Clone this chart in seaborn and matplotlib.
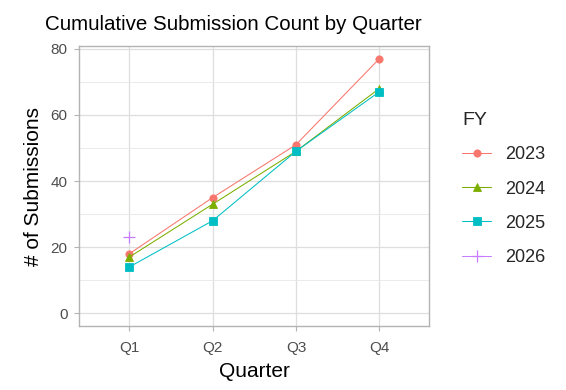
import pandas as pd
import numpy as np
import seaborn as sns
import matplotlib.pyplot as plt
from matplotlib.ticker import MultipleLocator

# Values
quarters = ['Q1', 'Q2', 'Q3', 'Q4']
fy_2023 = [18, 35, 51, 77]
fy_2024 = [17, 33, 49, 68]
fy_2025 = [14, 28, 49, 67]
fy_2026 = [23]
fy_labels = ['2023', '2024', '2025', '2026']

# ggplot-like hue palette and shapes
colors = ['#F8766D', '#7CAE00', '#00BFC4', '#C77CFF']
markers = ['o', '^', 's', '+']

sns.set_theme(style='white')
plt.rcParams['font.family'] = ['Liberation Sans', 'DejaVu Sans']

rows = []
for fy, vals in zip(fy_labels, [fy_2023, fy_2024, fy_2025, fy_2026]):
    for q, v in zip(quarters, vals):
        rows.append({'Quarter': q, 'Count': v, 'FY': fy})
df = pd.DataFrame(rows)
df['Qpos'] = df['Quarter'].map({q: i for i, q in enumerate(quarters)})

fig = plt.figure(figsize=(5.66, 3.90), dpi=100)
ax = fig.add_axes([0.140, 0.164, 0.6185, 0.718])

ax.yaxis.set_major_locator(MultipleLocator(20))
ax.yaxis.set_minor_locator(MultipleLocator(10))
ax.grid(True, which='major', color='#DEDEDE', linewidth=0.9, zorder=0)
ax.grid(True, which='minor', axis='y', color='#E8E8E8', linewidth=0.6, zorder=0)
ax.set_axisbelow(True)

for fy, c, m in zip(fy_labels, colors, markers):
    sub = df[df['FY'] == fy]
    sns.lineplot(data=sub, x='Qpos', y='Count', color=c, marker=m,
                 linewidth=0.75, markersize=5.2 if m != '+' else 8,
                 markeredgewidth=0.6 if m != '+' else 0.9,
                 markeredgecolor=c, label=fy, ax=ax)

ax.set_xlim(-0.6, 3.6)
ax.set_ylim(-3.85, 80.85)
ax.set_xticks(range(len(quarters)))
ax.set_xticklabels(quarters)

for s in ax.spines.values():
    s.set_color('#B3B3B3')
    s.set_linewidth(1.0)
ax.tick_params(axis='both', which='major', length=3.5, width=0.8, color='#B3B3B3',
               labelsize=11, labelcolor='#4D4D4D', pad=5, bottom=True, left=True)
ax.tick_params(axis='x', which='major', pad=7)
ax.tick_params(axis='y', which='minor', length=0)

ax.set_xlabel('Quarter', fontsize=15, color='black', labelpad=5)
ax.set_ylabel('# of Submissions', fontsize=15, color='black', labelpad=5)
fig.text(0.080, 0.936, 'Cumulative Submission Count by Quarter', fontsize=14.8,
         color='black', ha='left', va='center')

handles, labels = ax.get_legend_handles_labels()
leg = ax.legend(handles, labels, title='FY', loc='upper left',
                bbox_to_anchor=(0.817, 0.712), bbox_transform=fig.transFigure,
                frameon=False, fontsize=13, title_fontsize=14,
                handlelength=1.6, labelspacing=0.95, handletextpad=0.75,
                borderaxespad=0, borderpad=0)
leg._legend_box.align = 'left'

fig.savefig('out.png', dpi=100, facecolor='white')
